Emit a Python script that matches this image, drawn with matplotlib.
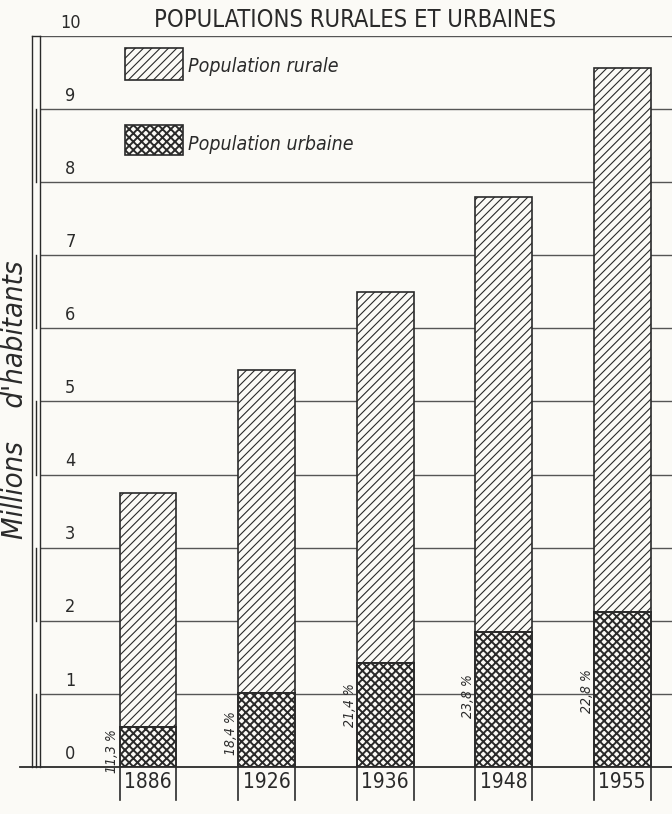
import numpy as np
import matplotlib
matplotlib.use("Agg")
import matplotlib.pyplot as plt
from matplotlib.patches import Rectangle
from matplotlib.transforms import blended_transform_factory

# data (millions of inhabitants)
years = ["1886", "1926", "1936", "1948", "1955"]
urban = [0.55, 1.01, 1.42, 1.85, 2.12]
rural = [3.20, 4.42, 5.08, 5.95, 7.44]
pct_labels = ["11,3 %", "18,4 %", "21,4 %", "23,8 %", "22,8 %"]
pct_y = [0.22, 0.46, 0.85, 0.97, 1.04]

ink = "#2a2a2a"
paper = "#fbfaf6"
fam = "DejaVu Sans"
cond = dict(family=fam, fontstretch="condensed", color=ink)
plt.rcParams["hatch.color"] = ink

fig = plt.figure(figsize=(6.72, 8.14), dpi=100, facecolor=paper)
W, H = 672, 814
ax = fig.add_axes([40 / W, (H - 767) / H, (672 - 40) / W, (767 - 36) / H])
ax.set_facecolor(paper)
x = np.arange(len(years))
ax.set_xlim(-0.911, 4.42)
ax.set_ylim(0, 10)
for s in ax.spines.values():
    s.set_visible(False)
ax.set_xticks([])
ax.set_yticks([])

# horizontal rules
for v in range(1, 11):
    ax.axhline(v, color="#555555", lw=1.0, zorder=1)
ax.plot([-1.08, 4.42], [0, 0], color=ink, lw=1.3, clip_on=False, zorder=4)

# bars
bw = 0.48
plt.rcParams["hatch.linewidth"] = 0.8
ax.bar(x, rural, bw, bottom=urban, facecolor=paper, edgecolor=ink,
       hatch="////", lw=1.2, zorder=3)
plt.rcParams["hatch.linewidth"] = 1.4
ax.bar(x, urban, bw, facecolor=paper, edgecolor=ink,
       hatch="xxxx", lw=1.4, zorder=3)

# y tick numbers, sitting above each rule
tr = blended_transform_factory(ax.transAxes, ax.transData)
for v in range(0, 11):
    ax.text(0.048, v + 0.06, str(v), transform=tr, fontsize=13,
            ha="center", va="bottom", **cond)

# left scale bar (double line with alternating filled bands)
for xo in [-8 / 632, 0.0]:
    ax.plot([xo, xo], [0, 10], transform=tr, color=ink, lw=1.0, clip_on=False)
for b in range(0, 10, 2):
    ax.plot([-4 / 632, -4 / 632], [b, b + 1], transform=tr, color=ink,
            lw=1.0, clip_on=False)
ax.plot([-8 / 632, 0], [10, 10], transform=tr, color=ink, lw=1.0, clip_on=False)

# year boxes under the bars
for i, yr in enumerate(years):
    for xe in (x[i] - bw / 2, x[i] + bw / 2):
        ax.plot([xe, xe], [0, -0.45], color=ink, lw=1.2, clip_on=False)
    ax.text(x[i], -0.2, yr, ha="center", va="center", fontsize=15, **cond)

# urban share labels
for i, lab in enumerate(pct_labels):
    ax.text(x[i] - bw / 2 - 0.06, pct_y[i], lab, rotation=90, style="italic",
            fontsize=10, ha="center", va="center", **cond)

# legend
lx0, lw_ = (125 - 40) / 632, 58 / 632
plt.rcParams["hatch.linewidth"] = 0.8
ax.add_patch(Rectangle((lx0, 9.40), lw_, 0.44, transform=tr, facecolor=paper,
                       edgecolor=ink, hatch="////", lw=1.2, zorder=5))
plt.rcParams["hatch.linewidth"] = 1.4
ax.add_patch(Rectangle((lx0, 8.37), lw_, 0.41, transform=tr, facecolor=paper,
                       edgecolor=ink, hatch="xxxx", lw=1.2, zorder=5))
ax.text((188 - 40) / 632, 9.58, "Population rurale", transform=tr,
        style="italic", fontsize=14, va="center", **cond)
ax.text((188 - 40) / 632, 8.51, "Population urbaine", transform=tr,
        style="italic", fontsize=14, va="center", **cond)

# title and axis label
fig.text(355 / W, 1 - 20 / H, "POPULATIONS RURALES ET URBAINES", ha="center",
         va="center", fontsize=17, **cond)
fig.text(15 / W, 1 - 400 / H, "Millions    d'habitants", rotation=90,
         ha="center", va="center", fontsize=21, style="italic", **cond)

fig.savefig("out.png", dpi=100, facecolor=paper)
